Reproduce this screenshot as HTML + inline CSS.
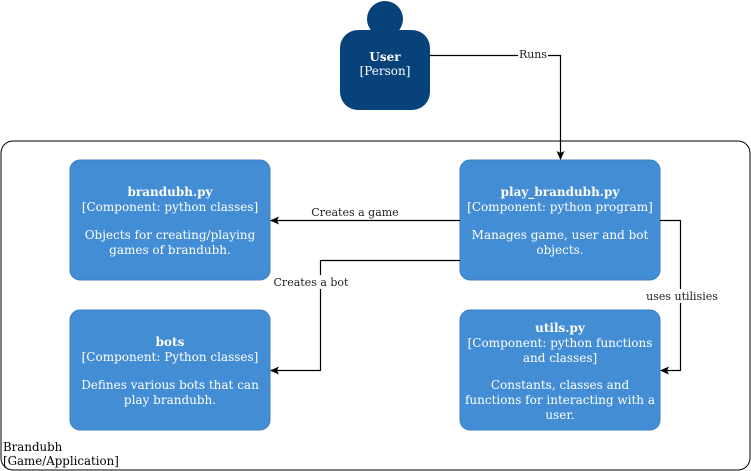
<!DOCTYPE html>
<html><head><meta charset="utf-8"><style>
html,body{margin:0;padding:0;background:#fff;width:751px;height:471px;overflow:hidden}
svg text{font-family:"DejaVu Serif","Liberation Serif",serif}
</style></head><body>
<svg width="751" height="471" viewBox="0 0 751 471" xmlns="http://www.w3.org/2000/svg">
<defs><marker id="a" markerWidth="10" markerHeight="10" refX="8" refY="4" orient="auto" markerUnits="userSpaceOnUse"><path d="M0,0 L9,4 L0,8 L2,4 Z" fill="#000"/></marker></defs>
<rect x="1" y="141" width="749" height="329" rx="12" fill="none" stroke="#000" stroke-width="1"/>
<text x="3" y="451" font-size="11.8" fill="#000">Brandubh</text>
<text x="3" y="465" font-size="11.8" fill="#000">[Game/Application]</text>

<circle cx="385" cy="19" r="18" fill="#08427b"/>
<rect x="340" y="30" width="90" height="80" rx="18" fill="#08427b"/>
<text x="385" y="61" font-size="12" font-weight="bold" fill="#fff" text-anchor="middle">User</text>
<text x="385" y="75" font-size="12" fill="#fff" text-anchor="middle">[Person]</text>

<g fill="#438dd5" stroke="#3c7fc0">
<rect x="70" y="160" width="200" height="120" rx="10"/>
<rect x="460" y="160" width="200" height="120" rx="10"/>
<rect x="70" y="310" width="200" height="120" rx="10"/>
<rect x="460" y="310" width="200" height="120" rx="10"/>
</g>
<g font-size="12" fill="#fff" text-anchor="middle">
<text x="170" y="196" font-weight="bold">brandubh.py</text>
<text x="170" y="211">[Component: python classes]</text>
<text x="170" y="239">Objects for creating/playing</text>
<text x="170" y="254">games of brandubh.</text>

<text x="560" y="196" font-weight="bold">play_brandubh.py</text>
<text x="560" y="211">[Component: python program]</text>
<text x="560" y="239">Manages game, user and bot</text>
<text x="560" y="254">objects.</text>

<text x="170" y="346" font-weight="bold">bots</text>
<text x="170" y="361">[Component: Python classes]</text>
<text x="170" y="389">Defines various bots that can</text>
<text x="170" y="404">play brandubh.</text>

<text x="560" y="332" font-weight="bold">utils.py</text>
<text x="560" y="347">[Component: python functions</text>
<text x="560" y="362">and classes]</text>
<text x="560" y="389">Constants, classes and</text>
<text x="560" y="404">functions for interacting with a</text>
<text x="560" y="419">user.</text>
</g>

<g fill="none" stroke="#000" stroke-width="1.2">
<path d="M430,55.5 H560.5 V159" marker-end="url(#a)"/>
<path d="M460,220.5 H271" marker-end="url(#a)"/>
<path d="M460,260.5 H320.5 V370.5 H271" marker-end="url(#a)"/>
<path d="M660,220.5 H680.5 V370.5 H661" marker-end="url(#a)"/>
</g>
<g font-size="11" fill="#222" text-anchor="middle">
<rect x="518" y="47" width="30" height="13" fill="#fff"/>
<text x="533" y="58">Runs</text>
<text x="355" y="216">Creates a game</text>
<rect x="272" y="275" width="80" height="14" fill="#fff"/>
<text x="311" y="286">Creates a bot</text>
<rect x="645" y="289" width="74" height="14" fill="#fff"/>
<text x="682" y="300">uses utilisies</text>
</g>
</svg>
</body></html>
